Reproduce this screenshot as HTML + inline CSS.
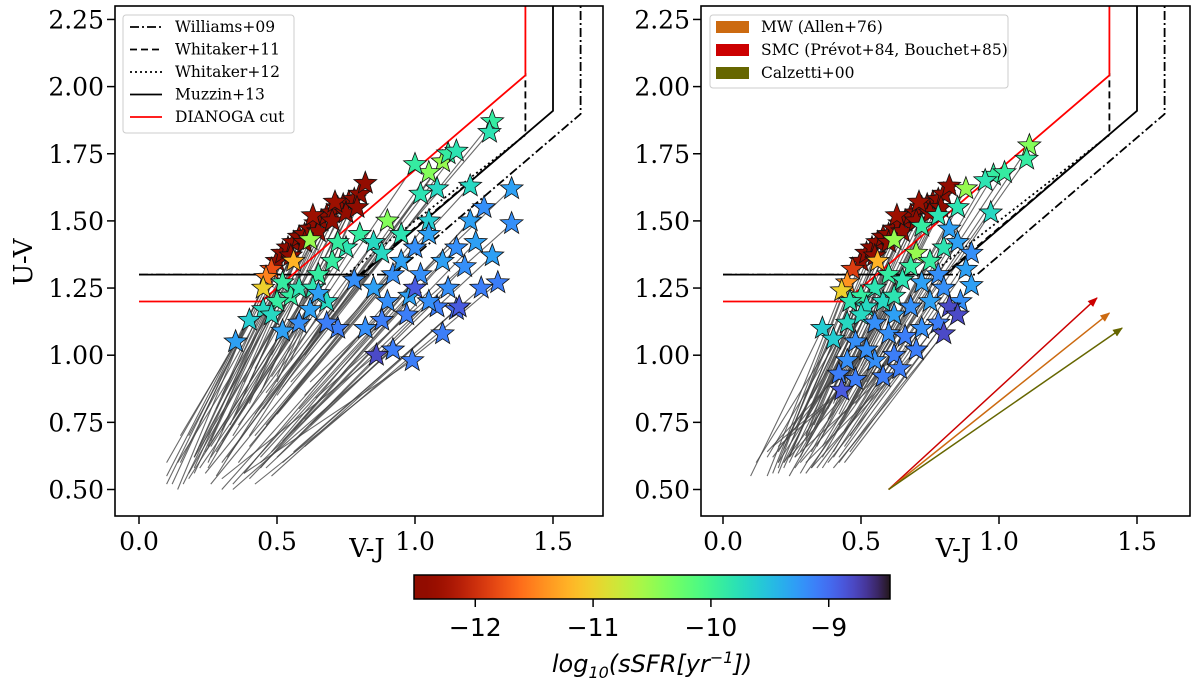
<!DOCTYPE html>
<html><head><meta charset="utf-8">
<style>
html,body{margin:0;padding:0;background:#fff;}
svg{display:block;}
text{font-family:"DejaVu Serif","Liberation Serif",serif;}
</style></head>
<body>
<svg id="chart" width="1200" height="684" viewBox="0 0 1200 684" xmlns="http://www.w3.org/2000/svg"></svg>
<script>
// ---- data: [V-J, U-V, log sSFR, V-J start, U-V start]
const leftStars = [
[0.50,1.35,-12.5,0.10,0.55],[0.52,1.38,-12.5,0.15,0.60],[0.54,1.40,-12.5,0.20,0.62],[0.56,1.42,-12.5,0.18,0.70],
[0.58,1.44,-12.5,0.25,0.66],[0.60,1.45,-12.5,0.22,0.75],[0.62,1.47,-12.5,0.30,0.72],[0.64,1.49,-12.5,0.28,0.80],
[0.66,1.50,-12.5,0.35,0.78],[0.68,1.52,-12.5,0.32,0.85],[0.70,1.53,-12.5,0.40,0.82],[0.72,1.55,-12.5,0.38,0.90],
[0.74,1.56,-12.5,0.45,0.88],[0.76,1.57,-12.5,0.42,0.95],[0.78,1.58,-12.5,0.50,0.92],[0.80,1.60,-12.5,0.48,1.00],
[0.82,1.64,-12.4,0.55,0.98],[0.55,1.37,-12.4,0.20,0.58],[0.60,1.42,-12.5,0.26,0.68],[0.65,1.46,-12.4,0.33,0.74],
[0.70,1.50,-12.5,0.38,0.80],[0.75,1.53,-12.4,0.44,0.86],[0.79,1.55,-12.5,0.50,0.90],[0.63,1.52,-12.3,0.30,0.85],
[0.71,1.57,-12.3,0.40,0.90],
[0.48,1.32,-11.8,0.12,0.52],[0.46,1.29,-11.5,0.14,0.50],[0.56,1.35,-11.2,0.20,0.56],[0.45,1.25,-11.0,0.10,0.52],
[0.62,1.43,-10.5,0.25,0.60],[0.90,1.50,-10.4,0.40,0.70],[1.10,1.72,-10.5,0.50,0.85],[1.05,1.68,-10.4,0.45,0.80],
[0.52,1.27,-9.9,0.16,0.52],[0.55,1.22,-9.9,0.18,0.56],[0.50,1.20,-9.9,0.14,0.60],[0.58,1.25,-9.8,0.20,0.62],
[0.65,1.30,-9.9,0.24,0.64],[0.70,1.35,-9.9,0.26,0.66],[0.75,1.40,-9.8,0.30,0.68],[0.80,1.45,-9.9,0.34,0.70],
[0.85,1.42,-9.7,0.36,0.74],[0.88,1.38,-9.7,0.30,0.60],[0.95,1.45,-9.8,0.42,0.78],[1.00,1.71,-9.9,0.48,0.92],
[1.02,1.60,-9.8,0.46,0.86],[1.08,1.62,-9.7,0.52,0.88],[1.12,1.75,-9.9,0.55,0.95],[1.15,1.76,-9.8,0.58,0.98],
[1.28,1.87,-9.9,0.60,1.00],[1.27,1.83,-9.8,0.62,1.05],[1.20,1.63,-9.7,0.55,0.90],[0.45,1.17,-9.7,0.20,0.62],
[0.40,1.13,-9.6,0.15,0.70],[0.48,1.15,-9.7,0.22,0.66],[0.72,1.42,-9.9,0.34,0.76],[1.05,1.50,-9.6,0.45,0.72],
[0.63,1.25,-9.8,0.25,0.58],[0.68,1.20,-9.7,0.28,0.55],
[0.35,1.05,-9.3,0.10,0.60],[0.52,1.09,-9.3,0.18,0.54],[0.58,1.12,-9.2,0.22,0.58],[0.62,1.17,-9.3,0.26,0.62],
[0.65,1.23,-9.3,0.28,0.64],[0.78,1.28,-9.2,0.32,0.62],[0.85,1.25,-9.3,0.36,0.60],[0.92,1.30,-9.2,0.40,0.66],
[0.95,1.35,-9.3,0.42,0.70],[1.00,1.40,-9.2,0.46,0.74],[1.05,1.45,-9.3,0.50,0.78],[0.90,1.20,-9.2,0.38,0.56],
[0.98,1.22,-9.3,0.44,0.58],[1.02,1.30,-9.2,0.48,0.64],[1.10,1.35,-9.3,0.52,0.68],[1.15,1.40,-9.2,0.56,0.72],
[1.20,1.50,-9.3,0.58,0.80],[1.25,1.55,-9.2,0.60,0.85],[1.35,1.62,-9.3,0.62,0.90],[1.35,1.49,-9.2,0.64,0.84],
[1.22,1.42,-9.3,0.60,0.76],[1.18,1.33,-9.2,0.58,0.70],[1.28,1.37,-9.3,0.62,0.74],[1.24,1.25,-9.1,0.56,0.64],
[1.30,1.27,-9.1,0.60,0.66],[1.12,1.25,-9.2,0.50,0.62],[1.08,1.18,-9.1,0.46,0.58],[1.05,1.20,-9.2,0.44,0.60],
[1.15,1.17,-9.0,0.48,0.55],[0.97,1.15,-9.1,0.40,0.54],[0.88,1.13,-9.1,0.34,0.52],[0.82,1.10,-9.2,0.30,0.50],
[0.72,1.10,-9.1,0.26,0.52],[0.68,1.12,-9.1,0.24,0.56],[1.10,1.08,-9.1,0.42,0.52],[0.92,1.02,-9.1,0.34,0.50],
[0.99,0.98,-9.1,0.38,0.56],[0.86,1.00,-8.8,0.30,0.54],[1.16,1.18,-8.9,0.52,0.60],[1.00,1.25,-8.9,0.44,0.62]
];
const rightStars = [
[0.50,1.35,-12.5,0.20,0.60],[0.52,1.38,-12.5,0.22,0.65],[0.54,1.40,-12.5,0.25,0.68],[0.56,1.42,-12.5,0.26,0.72],
[0.58,1.44,-12.5,0.30,0.70],[0.60,1.45,-12.5,0.28,0.76],[0.62,1.47,-12.5,0.33,0.74],[0.64,1.49,-12.5,0.32,0.80],
[0.66,1.50,-12.5,0.36,0.78],[0.68,1.52,-12.5,0.35,0.84],[0.70,1.53,-12.5,0.40,0.82],[0.72,1.55,-12.5,0.38,0.88],
[0.74,1.56,-12.5,0.42,0.86],[0.76,1.57,-12.5,0.44,0.90],[0.78,1.58,-12.5,0.46,0.92],[0.80,1.60,-12.5,0.48,0.95],
[0.82,1.63,-12.4,0.50,0.96],[0.55,1.37,-12.4,0.24,0.62],[0.60,1.42,-12.5,0.30,0.68],[0.65,1.46,-12.4,0.34,0.74],
[0.70,1.50,-12.5,0.38,0.80],[0.75,1.53,-12.4,0.42,0.84],[0.79,1.55,-12.5,0.46,0.88],[0.63,1.52,-12.3,0.32,0.84],
[0.71,1.57,-12.3,0.40,0.90],
[0.47,1.32,-11.9,0.20,0.58],[0.45,1.27,-11.4,0.18,0.56],[0.56,1.35,-11.2,0.24,0.62],[0.43,1.24,-11.0,0.16,0.55],
[0.62,1.43,-10.5,0.30,0.70],[0.88,1.62,-10.5,0.45,0.80],[1.11,1.78,-10.4,0.55,0.92],[0.70,1.38,-10.5,0.34,0.66],
[1.10,1.73,-9.9,0.52,0.88],[0.98,1.67,-9.9,0.50,0.86],[0.95,1.65,-9.8,0.48,0.82],[1.02,1.68,-9.9,0.52,0.90],
[0.85,1.55,-9.8,0.44,0.78],[0.72,1.48,-9.9,0.38,0.76],[0.78,1.52,-9.8,0.42,0.78],[0.97,1.53,-9.7,0.46,0.74],
[0.75,1.35,-9.9,0.36,0.66],[0.80,1.40,-9.8,0.40,0.70],[0.68,1.33,-9.9,0.32,0.64],[0.60,1.30,-9.9,0.28,0.62],
[0.55,1.25,-9.8,0.24,0.60],[0.50,1.22,-9.9,0.22,0.58],[0.46,1.20,-9.8,0.20,0.56],[0.52,1.18,-9.7,0.22,0.60],
[0.58,1.20,-9.7,0.26,0.62],[0.62,1.22,-9.8,0.28,0.64],[0.36,1.10,-9.6,0.10,0.55],[0.40,1.06,-9.6,0.12,0.60],
[0.45,1.12,-9.7,0.16,0.62],[0.50,1.15,-9.7,0.20,0.64],[0.65,1.28,-9.8,0.30,0.66],
[0.82,1.47,-9.3,0.42,0.74],[0.85,1.42,-9.3,0.44,0.72],[0.90,1.38,-9.2,0.46,0.70],[0.88,1.32,-9.3,0.44,0.66],
[0.78,1.30,-9.2,0.40,0.64],[0.72,1.27,-9.3,0.36,0.62],[0.80,1.25,-9.2,0.40,0.62],[0.90,1.26,-9.3,0.46,0.64],
[0.86,1.20,-9.2,0.42,0.60],[0.75,1.20,-9.3,0.36,0.58],[0.68,1.18,-9.2,0.32,0.58],[0.62,1.15,-9.3,0.28,0.56],
[0.55,1.12,-9.2,0.24,0.55],[0.60,1.08,-9.2,0.26,0.58],[0.66,1.07,-9.1,0.30,0.56],[0.72,1.10,-9.2,0.34,0.58],
[0.78,1.12,-9.1,0.38,0.60],[0.48,1.05,-9.2,0.20,0.60],[0.45,0.98,-9.2,0.18,0.62],[0.42,0.93,-9.1,0.16,0.64],
[0.48,0.91,-9.1,0.20,0.66],[0.55,0.98,-9.2,0.24,0.62],[0.62,1.00,-9.1,0.28,0.60],[0.70,1.02,-9.1,0.32,0.58],
[0.52,1.02,-9.2,0.22,0.60],[0.58,0.92,-9.1,0.26,0.62],[0.64,0.95,-9.1,0.30,0.60],
[0.82,1.18,-8.8,0.42,0.62],[0.85,1.15,-8.8,0.44,0.60],[0.80,1.08,-8.8,0.40,0.58],[0.43,0.87,-8.9,0.18,0.66]
];
const xTicks = [0.0, 0.5, 1.0, 1.5];
const xTickLabels = ["0.0","0.5","1.0","1.5"];
const yTicks = [0.50,0.75,1.00,1.25,1.50,1.75,2.00,2.25];
const yTickLabels = ["0.50","0.75","1.00","1.25","1.50","1.75","2.00","2.25"];
const cbTicks = [-12,-11,-10,-9];
const cbTickLabels = ["\u221212","\u221211","\u221210","\u22129"];
const cbRange = [-12.52, -8.48];
const williams = [[0,1.3],[0.92,1.3],[1.6,1.898],[1.6,2.3]];
const whitaker11 = [[0.8,1.3],[1.4,1.822],[1.4,2.05]];
const whitaker12 = [[0.75,1.3],[1.4,1.82]];
const muzzin = [[0,1.3],[0.807,1.3],[1.5,1.91],[1.5,2.3]];
const dianoga = [[0,1.2],[0.443,1.2],[1.4,2.042],[1.4,2.3]];
const arrowStart = [0.6, 0.5];
const arrowEnds = [[1.355,1.213],[1.40,1.157],[1.446,1.101]];
const arrowColors = ["#cc0000","#cc6a10","#666600"];

const NS="http://www.w3.org/2000/svg";
const svg=document.getElementById('chart');
function mk(tag,attrs,parent){const e=document.createElementNS(NS,tag);for(const k in attrs)e.setAttribute(k,attrs[k]);(parent||svg).appendChild(e);return e;}
function turbo(t){t=Math.max(0,Math.min(1,t));
 const r=0.13572138+t*(4.61539260+t*(-42.66032258+t*(132.13108234+t*(-152.94239396+t*59.28637943))));
 const g=0.09140261+t*(2.19418839+t*(4.84296658+t*(-14.18503333+t*(4.27729857+t*2.82956604))));
 const b=0.10667330+t*(12.64194608+t*(-60.58204836+t*(110.36276771+t*(-89.90310912+t*27.34824973))));
 const c=v=>Math.round(Math.max(0,Math.min(1,v))*255);return `rgb(${c(r)},${c(g)},${c(b)})`;}
function cmap(s){return turbo(1-(s-cbRange[0])/(cbRange[1]-cbRange[0]));}
function starPath(cx,cy,R){let d='';const r=R*0.42;for(let i=0;i<10;i++){const a=-Math.PI/2+i*Math.PI/5;const rr=i%2?r:R;d+=(i?'L':'M')+(cx+rr*Math.cos(a)).toFixed(1)+','+(cy+rr*Math.sin(a)).toFixed(1);}return d+'Z';}

const pTop=6,pBottom=516;
const defs=mk('defs',{});
function panel(name,left,right,x0,stars){
 const X=v=>x0+v*276, Y=u=>489.5-(u-0.5)*268.6;
 const g=mk('g',{});
 
 
 const cid='clip-'+name;
 const cp=mk('clipPath',{id:cid},defs);mk('rect',{x:left,y:pTop,width:right-left,height:pBottom-pTop},cp);
 const plot=mk('g',{'clip-path':`url(#${cid})`},g);
 stars.forEach(s=>{const l=mk('line',{x1:X(s[3]),y1:Y(s[4]),x2:X(s[0]),y2:Y(s[1]),stroke:'#444','stroke-width':1.1,opacity:0.8},plot);
  
  });
 const poly=(pts,st,dash,w,nm)=>{const p=mk('polyline',{points:pts.map(q=>X(q[0])+','+Y(q[1])).join(' '),fill:'none',stroke:st,'stroke-width':w,'stroke-dasharray':dash},plot);
  
  };
 poly(williams,'#000','9 3 2 3',1.8,'williams09-boundary');
 poly(whitaker11,'#000','7 4',1.8,'whitaker11-boundary');
 poly(whitaker12,'#000','2 3',1.8,'whitaker12-boundary');
 poly(muzzin,'#000','none',1.8,'muzzin13-boundary');
 poly(dianoga,'#ff0000','none',1.8,'dianoga-cut-boundary');
 stars.forEach(s=>{const p=mk('path',{d:starPath(X(s[0]),Y(s[1]),12),fill:cmap(s[2]),stroke:'#111','stroke-width':0.8},plot);
  
  });
 const f=mk('rect',{x:left,y:pTop,width:right-left,height:pBottom-pTop,fill:'none',stroke:'#000','stroke-width':1.6},g);
 
 
 xTicks.forEach((v,i)=>{mk('line',{x1:X(v),x2:X(v),y1:pBottom,y2:pBottom+8,stroke:'#000','stroke-width':1.5},g);
  const t=mk('text',{x:X(v),y:pBottom+34,'text-anchor':'middle','font-size':25},g);t.textContent=xTickLabels[i];
  
  });
 yTicks.forEach((v,i)=>{mk('line',{x1:left-8,x2:left,y1:Y(v),y2:Y(v),stroke:'#000','stroke-width':1.5},g);
  const t=mk('text',{x:left-11,y:Y(v)+9,'text-anchor':'end','font-size':25},g);t.textContent=yTickLabels[i];
  
  });
 const xl=mk('text',{x:(left+right)/2+8,y:557,'text-anchor':'middle','font-size':26},g);xl.textContent='V-J';
 
 
 return {g,X,Y,plot};
}
const L=panel('left-panel',115,603,139,leftStars);
const R=panel('right-panel',701,1190,723,rightStars);
const yl=mk('text',{x:0,y:0,'text-anchor':'middle','font-size':26,transform:'translate(32,262) rotate(-90)'});yl.textContent='U-V';



arrowColors.forEach((c,i)=>{const m=mk('marker',{id:'ah'+i,markerWidth:10,markerHeight:8,refX:9,refY:4,orient:'auto',markerUnits:'userSpaceOnUse'},defs);mk('path',{d:'M0,0 L10,4 L0,8 Z',fill:c},m);});
arrowEnds.forEach((e,i)=>{const l=mk('line',{x1:R.X(arrowStart[0]),y1:R.Y(arrowStart[1]),x2:R.X(e[0]),y2:R.Y(e[1]),stroke:arrowColors[i],'stroke-width':1.5,'marker-end':`url(#ah${i})`},R.g);
 
 });

const lg=mk('g',{});


mk('rect',{x:123,y:15,width:171,height:118,rx:3,fill:'#fff','fill-opacity':0.85,stroke:'#ccc','stroke-width':1},lg);
const leg=[['Williams+09','#000','9 3 2 3'],['Whitaker+11','#000','7 4'],['Whitaker+12','#000','2 3'],['Muzzin+13','#000','none'],['DIANOGA cut','#ff0000','none']];
leg.forEach((e,i)=>{const y=27+i*22.5;mk('line',{x1:130,x2:162,y1:y,y2:y,stroke:e[1],'stroke-width':1.8,'stroke-dasharray':e[2]},lg);
 const t=mk('text',{x:175,y:y+5,'font-size':15.5},lg);t.textContent=e[0];
 
 });
const rg=mk('g',{});


mk('rect',{x:710,y:15,width:298,height:73,rx:3,fill:'#fff','fill-opacity':0.85,stroke:'#ccc','stroke-width':1},rg);
const rleg=[['MW (Allen+76)','#cc6a10'],['SMC (Pr\u00e9vot+84, Bouchet+85)','#cc0000'],['Calzetti+00','#666600']];
rleg.forEach((e,i)=>{const y=27+i*23;mk('rect',{x:716,y:y-6,width:33,height:12,fill:e[1]},rg);
 const t=mk('text',{x:761,y:y+5,'font-size':15.5},rg);t.textContent=e[0];
 
 });

const cbx0=414,cbx1=890,cby=575,cbh=24;
const grad=mk('linearGradient',{id:'cbgrad',x1:0,x2:1,y1:0,y2:0},defs);
for(let i=0;i<=40;i++){const s=cbRange[0]+(cbRange[1]-cbRange[0])*i/40;mk('stop',{offset:(i/40),'stop-color':cmap(s)},grad);}
const cb=mk('g',{});


mk('rect',{x:cbx0,y:cby,width:cbx1-cbx0,height:cbh,fill:'url(#cbgrad)',stroke:'#000','stroke-width':1.5},cb);
const CX=s=>cbx0+(s-cbRange[0])/(cbRange[1]-cbRange[0])*(cbx1-cbx0);
cbTicks.forEach((v,i)=>{mk('line',{x1:CX(v),x2:CX(v),y1:cby+cbh,y2:cby+cbh+8,stroke:'#000','stroke-width':1.5},cb);
 const t=mk('text',{x:CX(v),y:cby+cbh+37,'text-anchor':'middle','font-size':25,style:'font-family:"DejaVu Sans","Liberation Sans",sans-serif'},cb);t.textContent=cbTickLabels[i];
 
 });
const ct=mk('text',{x:652,y:672,'text-anchor':'middle','font-size':24,'font-style':'italic',style:'font-family:"DejaVu Sans","Liberation Sans",sans-serif'},cb);
ct.innerHTML='log<tspan font-size="16" dy="6">10</tspan><tspan dy="-6">(sSFR[yr</tspan><tspan font-size="16" dy="-9">\u22121</tspan><tspan dy="9">])</tspan>';


</script>
</body></html>
